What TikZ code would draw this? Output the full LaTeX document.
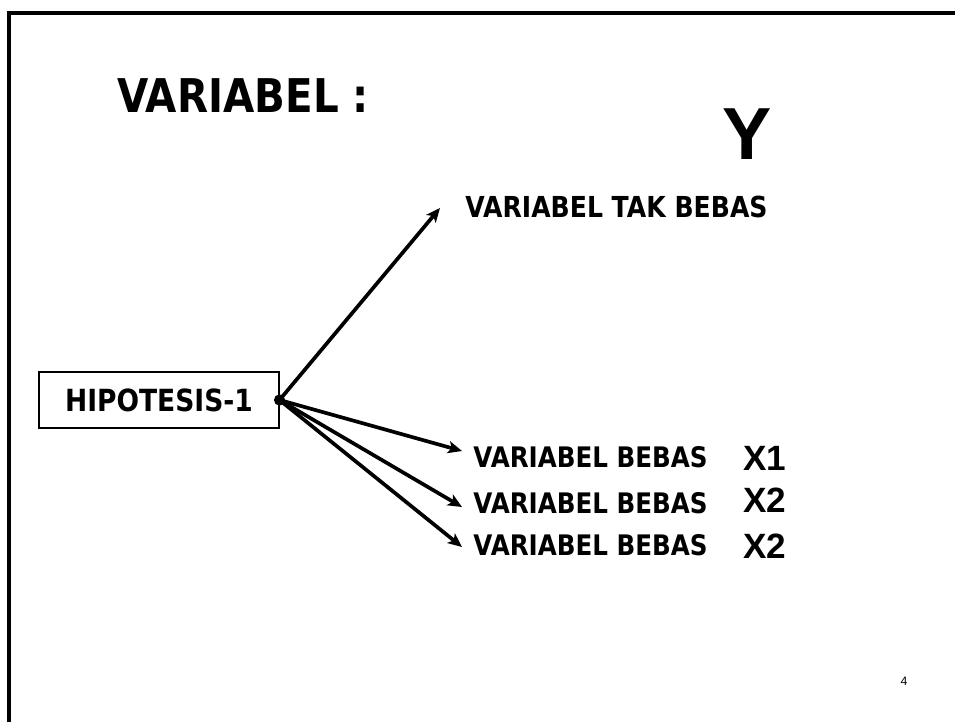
\documentclass[tikz,border=0pt]{standalone}
\usepackage{fontspec}
\newfontfamily\handfont{DejaVu Sans}
\newfontfamily\arialfont{Liberation Sans}
\usetikzlibrary{arrows.meta}
\newcommand{\tinggi}[1]{\scalebox{1}[1.15]{#1}}
\tikzset{
  hand/.style={font=\handfont\bfseries\fontsize{14}{16}\selectfont, inner sep=0pt},
  varsym/.style={font=\arialfont\bfseries\fontsize{20}{22}\selectfont, inner sep=0pt},
  branch/.style={line width=2.1pt, -{Stealth[length=8pt,width=7pt,inset=2pt]}},
}

\begin{document}
\begin{tikzpicture}[x=0.02cm, y=-0.02cm]
	\useasboundingbox (0,0) rectangle (955,722);
	
	% slide frame
	\draw[line width=2.1pt] (955,13) -- (9,13) -- (9,722);
	
	\node[hand, anchor=base west, font=\handfont\bfseries\fontsize{23}{26}\selectfont] (judul) at (117,113) {\tinggi{VARIABEL :}};
	\node[varsym, font=\arialfont\bfseries\fontsize{42}{44}\selectfont] (y) at (747,134) {Y};
	
	\node[draw, line width=0.6pt, minimum width=4.8cm, minimum height=1.12cm, inner sep=0pt,
		font=\handfont\bfseries\fontsize{15.1}{17}\selectfont] (hipo) at (159,400) {\tinggi{HIPOTESIS-1}};
	\fill (hipo.east) circle (3.2pt);
	
	\node[hand, anchor=base west, font=\handfont\bfseries\fontsize{14.3}{16}\selectfont] (takbebas) at (465,218) {\tinggi{VARIABEL TAK BEBAS}};
	\node[hand, anchor=base west] (bebas1) at (473,467) {\tinggi{VARIABEL BEBAS}};
	\node[hand, anchor=base west] (bebas2) at (473,513) {\tinggi{VARIABEL BEBAS}};
	\node[hand, anchor=base west] (bebas3) at (473,555) {\tinggi{VARIABEL BEBAS}};
	
	\node[varsym, anchor=base west] (x1) at (743,470) {X1};
	\node[varsym, anchor=base west] (x2) at (743,512) {X2};
	\node[varsym, anchor=base west] (x3) at (743,558) {X2};
	
	\coordinate (ujungY) at (440,208);
	\coordinate (ujung1) at (462,451);
	\coordinate (ujung2) at (462,507);
	\coordinate (ujung3) at (462,547);
	
	\draw[branch] (hipo.east) -- (ujungY);
	\draw[branch] (hipo.east) -- (ujung1);
	\draw[branch] (hipo.east) -- (ujung2);
	\draw[branch] (hipo.east) -- (ujung3);
	
	\node[font=\arialfont\fontsize{7}{8}\selectfont] (hal) at (904,681) {4};
\end{tikzpicture}
\end{document}
